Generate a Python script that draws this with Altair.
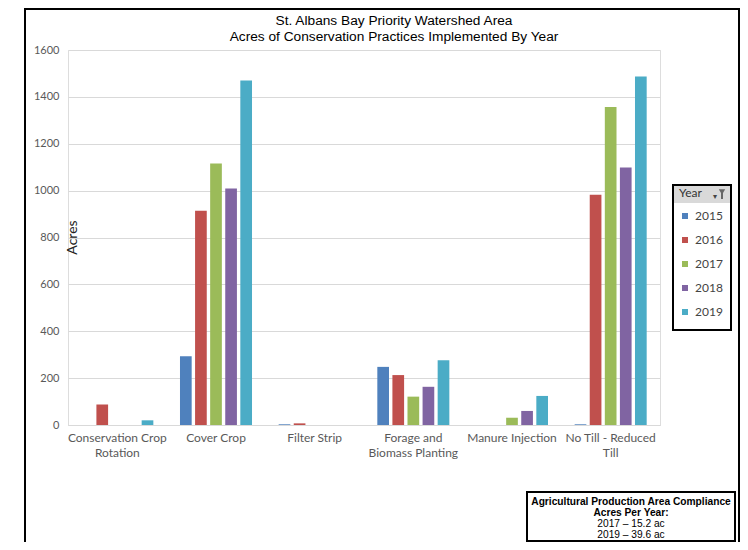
import altair as alt
import pandas as pd

categories = ["Conservation Crop Rotation", "Cover Crop", "Filter Strip",
              "Forage and Biomass Planting", "Manure Injection", "No Till - Reduced Till"]
years = ["2015", "2016", "2017", "2018", "2019"]
acres_2015 = [0, 293, 3, 248, 0, 3]
acres_2016 = [87, 914, 7, 213, 0, 982]
acres_2017 = [0, 1116, 0, 121, 31, 1357]
acres_2018 = [0, 1009, 0, 163, 60, 1099]
acres_2019 = [20, 1470, 0, 276, 124, 1487]
colors = ["#4F81BD", "#C0504D", "#9BBB59", "#8064A2", "#4BACC6"]
y_ticks = [0, 200, 400, 600, 800, 1000, 1200, 1400, 1600]
label_lines = {
    "Conservation Crop Rotation": ["Conservation Crop", "Rotation"],
    "Forage and Biomass Planting": ["Forage and", "Biomass Planting"],
    "No Till - Reduced Till": ["No Till - Reduced", "Till"],
}
title_lines = ["St. Albans Bay Priority Watershed Area",
               "Acres of Conservation Practices Implemented By Year"]
note_lines = ["Agricultural Production Area Compliance", "Acres Per Year:",
              "2017 \u2013  15.2 ac", "2019 \u2013  39.6 ac"]

series = [acres_2015, acres_2016, acres_2017, acres_2018, acres_2019]
rows = []
for yr, vals in zip(years, series):
    for cat, v in zip(categories, vals):
        rows.append({"Practice": cat, "Year": yr, "Acres": v})
df = pd.DataFrame(rows)

expr = "datum.label"
for k, v in label_lines.items():
    expr = f"datum.label == '{k}' ? {v} : ({expr})"

LABEL_FONT = "Lato"
NARROW = "Liberation Sans Narrow, Liberation Sans, Arial"

bars = alt.Chart(df).mark_bar().encode(
    x=alt.X("Practice:N", sort=categories, title=None,
            scale=alt.Scale(paddingInner=0.27, paddingOuter=0.135),
            axis=alt.Axis(labelAngle=0, labelExpr=expr, labelFont=LABEL_FONT,
                          labelFontSize=12, labelColor="#595959", labelLineHeight=15,
                          labelPadding=7, labelBaseline="top", ticks=False,
                          domainColor="#d9d9d9", grid=False)),
    xOffset=alt.XOffset("Year:N", sort=years,
                        scale=alt.Scale(paddingInner=0.225, paddingOuter=0)),
    y=alt.Y("Acres:Q", scale=alt.Scale(domain=[0, 1600], nice=False),
            axis=alt.Axis(values=y_ticks, format="d", title="Acres", titleAngle=-90,
                          titleX=8, titleY=187, titleAlign="center",
                          titleBaseline="alphabetic", titleFont=LABEL_FONT,
                          titleFontSize=14, titleFontWeight="normal",
                          titleColor="#222222", labelFont=LABEL_FONT,
                          labelFontSize=11, labelColor="#595959", labelPadding=9,
                          ticks=False, domain=False, gridColor="#d9d9d9")),
    color=alt.Color("Year:N", sort=years,
                    scale=alt.Scale(domain=years, range=colors),
                    legend=alt.Legend(orient="none", legendX=611, legendY=138,
                                      title="Year", titleFont=LABEL_FONT,
                                      titleFontSize=12, titleFontWeight="normal",
                                      titleColor="#333333", titlePadding=9,
                                      labelFont=LABEL_FONT, labelFontSize=12,
                                      labelColor="#444444", symbolType="square",
                                      symbolSize=36, symbolStrokeWidth=0,
                                      clipHeight=14, rowPadding=10, padding=0,
                                      labelOffset=4)),
)

one = pd.DataFrame({"k": [0]})

frame = alt.Chart(one).mark_rect(fill=None, stroke="black", strokeWidth=2).encode(
    x=alt.value(-43), x2=alt.value(671), y=alt.value(-41), y2=alt.value(530))

title_layers = []
for i, line in enumerate(title_lines):
    title_layers.append(alt.Chart(one).mark_text(
        text=line, font=NARROW, fontSize=13.7, color="black", baseline="alphabetic").encode(
        x=alt.value(326), y=alt.value(-25 + 16 * i)))

legend_header = alt.Chart(one).mark_rect(fill="#d9d9d9", stroke=None).encode(
    x=alt.value(605), x2=alt.value(663), y=alt.value(135), y2=alt.value(153))
legend_box = alt.Chart(one).mark_rect(fill=None, stroke="black", strokeWidth=2).encode(
    x=alt.value(605), x2=alt.value(663), y=alt.value(135), y2=alt.value(280))
funnel = alt.Chart(one).mark_point(shape="triangle-down", filled=True, color="#666666",
                                   size=40, opacity=1).encode(
    x=alt.value(654), y=alt.value(142))
funnel_stem = alt.Chart(one).mark_rect(fill="#666666").encode(
    x=alt.value(653), x2=alt.value(655), y=alt.value(143), y2=alt.value(149))
caret = alt.Chart(one).mark_text(text="\u25be", fontSize=8, color="#444444").encode(
    x=alt.value(647), y=alt.value(147))

note_box = alt.Chart(one).mark_rect(fill="white", stroke="black", strokeWidth=2).encode(
    x=alt.value(459), x2=alt.value(667), y=alt.value(442), y2=alt.value(491))
note_layers = []
for i, line in enumerate(note_lines):
    note_layers.append(alt.Chart(one).mark_text(
        text=line, font=NARROW, fontSize=10.2,
        fontWeight="bold" if i < 2 else "normal", color="black").encode(
        x=alt.value(563), y=alt.value(452 + 11 * i)))

chart = alt.layer(frame, bars, *title_layers, legend_header, legend_box, funnel,
                  funnel_stem, caret, note_box, *note_layers).properties(
    width=592, height=375,
    autosize=alt.AutoSizeParams(type="none"),
    padding={"left": 60, "top": 42, "right": 80, "bottom": 117},
).configure_view(stroke=None).configure(background="white")

chart.save("out.html", embed_options={"renderer": "svg", "actions": False})
